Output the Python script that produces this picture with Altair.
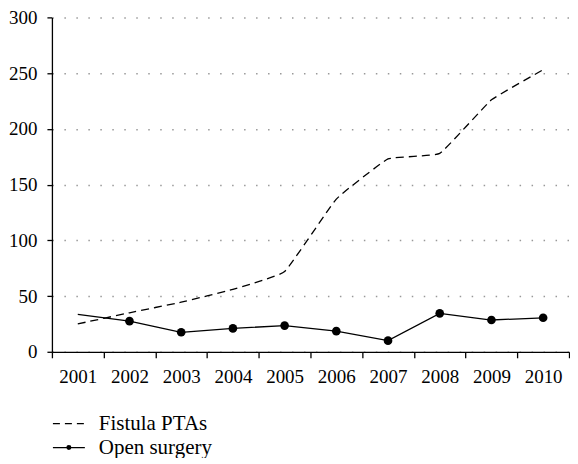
import altair as alt
import pandas as pd

years = ["2001", "2002", "2003", "2004", "2005", "2006", "2007", "2008", "2009", "2010"]
fistula_ptas = [25, 35, 44.5, 56, 72, 137, 173, 178, 226, 253]
open_surgery = [33.5, 27.5, 17.5, 21, 23.5, 18.5, 10, 34.5, 28.5, 30.5]
y_ticks = [0, 50, 100, 150, 200, 250, 300]

FONT = "Liberation Serif"
FS = 19
LFS = 21

df = pd.DataFrame({"year": years, "pta": fistula_ptas, "open": open_surgery})
markers = df[df["year"] != "2001"]

xenc = alt.X("year:O", scale=alt.Scale(type="band", paddingInner=0, paddingOuter=0),
             axis=alt.Axis(title=None, labelAngle=0, tickBand="extent", tickSize=6,
                           labelPadding=10, domainColor="black", tickColor="black",
                           labelColor="black", labelFont=FONT, labelFontSize=FS,
                           domainWidth=1.3, tickWidth=1.3, grid=False))
yscale = alt.Scale(domain=[0, 300])
yaxis = alt.Axis(title=None, values=y_ticks, tickSize=5, labelPadding=10,
                 domainColor="black", tickColor="black", labelColor="black",
                 labelFont=FONT, labelFontSize=FS, domainWidth=1.3, tickWidth=1.3,
                 grid=True, gridColor="#999999", gridDash=[1.5, 10.5], gridWidth=1.5)

base = alt.Chart(df)
pta_line = base.mark_line(color="black", strokeWidth=1.3, strokeDash=[8, 5],
                          interpolate="cardinal", tension=0.7).encode(
    x=xenc, y=alt.Y("pta:Q", scale=yscale, axis=yaxis))
open_line = base.mark_line(color="black", strokeWidth=1.3).encode(
    x=xenc, y=alt.Y("open:Q", scale=yscale))
open_pts = alt.Chart(markers).mark_circle(color="black", size=75, opacity=1).encode(
    x=xenc, y=alt.Y("open:Q", scale=yscale))

leg1 = alt.Chart(pd.DataFrame({"label": ["Fistula PTAs"]}))
leg2 = alt.Chart(pd.DataFrame({"label": ["Open surgery"]}))
l1_rule = leg1.mark_rule(color="black", strokeWidth=1.3, strokeDash=[7, 5]).encode(
    x=alt.value(1), x2=alt.value(33), y=alt.value(407))
l1_text = leg1.mark_text(align="left", baseline="middle", font=FONT, fontSize=LFS,
                         color="black").encode(
    x=alt.value(47), y=alt.value(407), text="label:N")
l2_rule = leg2.mark_rule(color="black", strokeWidth=1.3).encode(
    x=alt.value(1), x2=alt.value(33), y=alt.value(431))
l2_dot = leg2.mark_circle(color="black", size=25, opacity=1).encode(
    x=alt.value(17), y=alt.value(431))
l2_text = leg2.mark_text(align="left", baseline="middle", font=FONT, fontSize=LFS,
                         color="black").encode(
    x=alt.value(47), y=alt.value(431), text="label:N")

chart = alt.layer(pta_line, open_line, open_pts, l1_rule, l1_text, l2_rule, l2_dot, l2_text).properties(
    width=518, height=335,
    padding={"left": 0, "top": 0, "right": 0, "bottom": 0},
).configure_view(stroke=None)

chart.save("out.html", embed_options={"renderer": "svg", "actions": False})
